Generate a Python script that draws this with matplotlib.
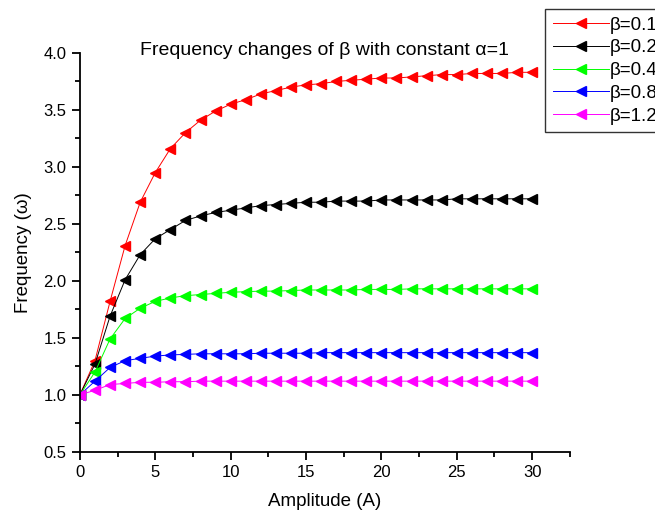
import numpy as np
import matplotlib
matplotlib.use('Agg')
import matplotlib.pyplot as plt
from matplotlib.ticker import MultipleLocator

plt.rcParams['font.family'] = ['Liberation Sans', 'DejaVu Sans']

# amplitude values 0..30
amp = np.arange(0, 31)

# frequency curves, one per beta
freq_b01 = [1.00, 1.30, 1.82, 2.31, 2.69, 2.95, 3.16, 3.30, 3.41, 3.49, 3.55,
            3.59, 3.64, 3.67, 3.70, 3.72, 3.73, 3.75, 3.76, 3.77, 3.78,
            3.78, 3.79, 3.80, 3.81, 3.81, 3.82, 3.82, 3.82, 3.83, 3.83]
freq_b02 = [1.00, 1.27, 1.69, 2.01, 2.23, 2.37, 2.45, 2.53, 2.57, 2.60, 2.62,
            2.64, 2.66, 2.67, 2.68, 2.69, 2.69, 2.70, 2.70, 2.70, 2.71,
            2.71, 2.71, 2.71, 2.71, 2.72, 2.72, 2.72, 2.72, 2.72, 2.72]
freq_b04 = [1.00, 1.20, 1.49, 1.67, 1.76, 1.82, 1.85, 1.87, 1.88, 1.89, 1.90,
            1.905, 1.91, 1.91, 1.915, 1.92, 1.92, 1.92, 1.92, 1.925, 1.925,
            1.925, 1.93, 1.93, 1.93, 1.93, 1.93, 1.93, 1.93, 1.93, 1.93]
freq_b08 = [1.00, 1.12, 1.24, 1.30, 1.32, 1.34, 1.35, 1.355, 1.36, 1.36, 1.36,
            1.36, 1.365, 1.365, 1.365, 1.365, 1.37, 1.37, 1.37, 1.37, 1.37,
            1.37, 1.37, 1.37, 1.37, 1.37, 1.37, 1.37, 1.37, 1.37, 1.37]
freq_b12 = [1.00, 1.04, 1.09, 1.10, 1.11, 1.11, 1.115, 1.115, 1.12, 1.12, 1.12,
            1.12, 1.12, 1.12, 1.12, 1.12, 1.12, 1.12, 1.12, 1.12, 1.12,
            1.12, 1.12, 1.12, 1.12, 1.12, 1.12, 1.12, 1.12, 1.12, 1.12]

labels = ['\u03b2=0.1', '\u03b2=0.2', '\u03b2=0.4', '\u03b2=0.8', '\u03b2=1.2']
colors = ['#ff0000', '#000000', '#00ff00', '#0000ff', '#ff00ff']
series = [freq_b01, freq_b02, freq_b04, freq_b08, freq_b12]

fig = plt.figure(figsize=(6.55, 5.14), dpi=100)
ax = fig.add_axes([0.122, 0.121, 0.748, 0.776])

for y, c, lab in zip(series, colors, labels):
    ax.plot(amp, y, color=c, lw=0.7, marker='<', markersize=6.5,
            markeredgecolor=c, markerfacecolor=c, label=lab)

ax.set_xlim(0, 32.5)
ax.set_ylim(0.5, 4.0)
ax.xaxis.set_major_locator(MultipleLocator(5))
ax.xaxis.set_minor_locator(MultipleLocator(2.5))
ax.yaxis.set_major_locator(MultipleLocator(0.5))
ax.yaxis.set_minor_locator(MultipleLocator(0.25))
ax.set_xticks([0, 5, 10, 15, 20, 25, 30])

ax.spines['top'].set_visible(False)
ax.spines['right'].set_visible(False)
for s in ['left', 'bottom']:
    ax.spines[s].set_linewidth(1.3)
ax.tick_params(which='major', direction='out', length=6, width=1.3, labelsize=12)
ax.tick_params(which='minor', direction='out', length=3.5, width=1.3)

ax.set_xlabel('Amplitude (A)', fontsize=13.5, labelpad=9)
ax.set_ylabel('Frequency (\u03c9)', fontsize=13.5, labelpad=8)
ax.text(0.5, 1.007, 'Frequency changes of \u03b2 with constant \u03b1=1',
        transform=ax.transAxes, ha='center', va='center', fontsize=14)

# legend sits partly outside the figure, as in the original
leg = fig.legend(loc='upper left', bbox_to_anchor=(545 / 655, 1 - 9 / 514),
                 fontsize=13.5, frameon=True, fancybox=False, numpoints=1,
                 handlelength=3.0, handletextpad=0.05, labelspacing=0.3,
                 borderpad=0.4, borderaxespad=0)
leg.get_frame().set_edgecolor('black')
leg.get_frame().set_linewidth(1.0)

plt.savefig('out.png', dpi=100)
